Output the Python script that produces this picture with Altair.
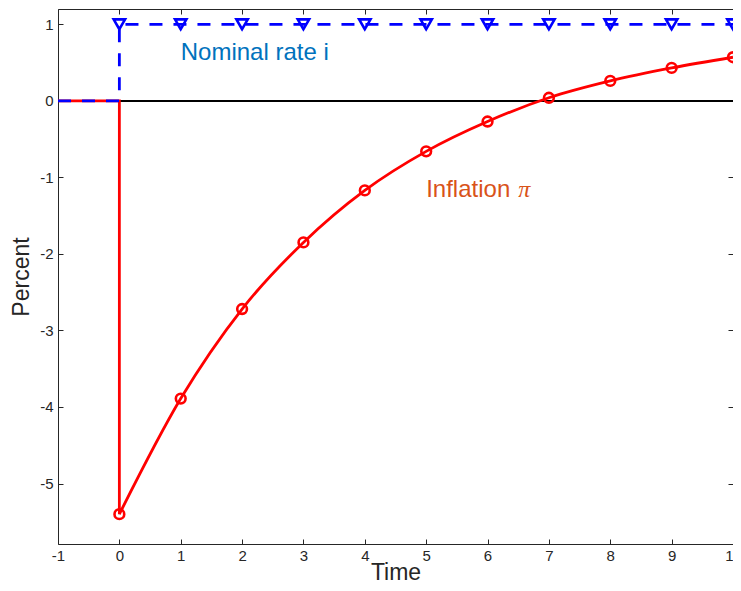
import altair as alt
import pandas as pd

# ---- data ----
time = [0, 1, 2, 3, 4, 5, 6, 7, 8, 9, 10]
inflation = [-5.40, -3.89, -2.72, -1.85, -1.17, -0.66, -0.27, 0.04, 0.26, 0.43, 0.57]
nominal = [1, 1, 1, 1, 1, 1, 1, 1, 1, 1, 1]
pre_time = [-1, 0]
pre_value = [0, 0]

x_ticks = [-1, 0, 1, 2, 3, 4, 5, 6, 7, 8, 9, 10]
y_ticks = [-5, -4, -3, -2, -1, 0, 1]

label_text = ["Nominal rate i", "Inflation"]
label_x = [1, 5]
label_y = [0.63, -1.17]
label_color = ["#0072BD", "#D95319"]

FONT = "Liberation Sans"
AX = "#262626"

# ---- tables ----
step_df = pd.DataFrame({
    "t": pre_time + [time[0]],
    "v": pre_value + [inflation[0]],
})
step_df["i"] = range(len(step_df))
curve_df = pd.DataFrame({"t": time, "v": inflation})
nom_df = pd.DataFrame({"t": pre_time + time, "v": pre_value + nominal})
nom_df["i"] = range(len(nom_df))
nom_pts = pd.DataFrame({"t": time, "v": nominal})
lab_df = pd.DataFrame({"x": label_x, "y": label_y, "text": label_text, "c": label_color})

xs = alt.Scale(domain=[-1, 10], nice=False, zero=False)
ys = alt.Scale(domain=[-5.79, 1.2], nice=False, zero=False)

common_axis = dict(
    offset=-5, tickSize=5, domain=False, grid=False, tickColor=AX, tickWidth=1,
    labelFont=FONT, labelFontSize=15, labelColor=AX,
    titleFont=FONT, titleFontSize=23, titleFontWeight="normal", titleColor=AX,
    labelExpr="'' + datum.value", labelFlush=False, labelOverlap=False,
)

x_bottom = alt.Axis(orient="bottom", values=x_ticks, title="Time",
                    labelPadding=4, titlePadding=-2, **common_axis)
y_left = alt.Axis(orient="left", values=y_ticks, title="Percent",
                  labelPadding=5, titlePadding=6, **common_axis)
x_top = alt.Axis(orient="top", values=x_ticks, title=None, labels=False,
                 offset=-5, tickSize=5, domain=False, grid=False, tickColor=AX)
y_right = alt.Axis(orient="right", values=y_ticks, title=None, labels=False,
                   offset=-5, tickSize=5, domain=False, grid=False, tickColor=AX)

zero = alt.Chart(curve_df).mark_rule(color="black", strokeWidth=1.3).encode(
    y=alt.YDatum(datum=0, scale=ys, axis=None)
)

step = alt.Chart(step_df).mark_line(color="#FF0000", strokeWidth=2.8).encode(
    x=alt.X("t:Q", scale=xs, axis=None),
    y=alt.Y("v:Q", scale=ys, axis=None),
    order=alt.Order("i:Q"),
)

curve = alt.Chart(curve_df).mark_line(color="#FF0000", strokeWidth=2.8,
                                      interpolate="monotone").encode(
    x=alt.X("t:Q", scale=xs, axis=None),
    y=alt.Y("v:Q", scale=ys, axis=None),
)

circles = alt.Chart(curve_df).mark_point(shape="circle", filled=False, color="#FF0000",
                                         size=95, strokeWidth=2.6, opacity=1).encode(
    x=alt.X("t:Q", scale=xs, axis=x_bottom),
    y=alt.Y("v:Q", scale=ys, axis=y_left),
)

nom_line = alt.Chart(nom_df).mark_line(color="#0000FF", strokeWidth=2.8,
                                       strokeDash=[13, 11]).encode(
    x=alt.X("t:Q", scale=xs, axis=None),
    y=alt.Y("v:Q", scale=ys, axis=None),
    order=alt.Order("i:Q"),
)

tris = alt.Chart(nom_pts).mark_point(shape="triangle-down", filled=False, color="#0000FF",
                                     size=130, strokeWidth=2.6, opacity=1).encode(
    x=alt.X("t:Q", scale=xs, axis=x_top),
    y=alt.Y("v:Q", scale=ys, axis=y_right),
)

texts = alt.Chart(lab_df).mark_text(font=FONT, fontSize=24, align="left",
                                    baseline="middle").encode(
    x=alt.X("x:Q", scale=xs, axis=None),
    y=alt.Y("y:Q", scale=ys, axis=None),
    text="text:N",
    color=alt.Color("c:N", scale=None),
)

pi_text = alt.Chart(lab_df.iloc[[1]]).mark_text(font="Liberation Serif", fontSize=24,
                                                fontStyle="italic", align="left",
                                                baseline="middle", dx=92,
                                                color="#D95319").encode(
    x=alt.X("x:Q", scale=xs, axis=None),
    y=alt.Y("y:Q", scale=ys, axis=None),
    text=alt.value("π"),
)

chart = alt.layer(zero, step, curve, nom_line, circles, tris, texts, pi_text).resolve_axis(
    x="independent", y="independent"
).properties(
    width=675, height=535,
    autosize=alt.AutoSizeParams(type="none"),
    padding={"left": 50, "top": 1, "right": 0, "bottom": 39},
).configure_view(
    stroke=AX, strokeWidth=1
)

chart.save("out.html", embed_options={"renderer": "svg", "actions": False})
